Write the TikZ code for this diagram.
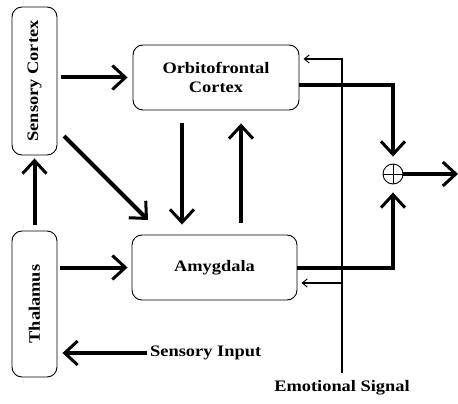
\documentclass[tikz,border=0pt]{standalone}
\usepackage{fontspec}
\setmainfont{Liberation Serif}[FakeStretch=1.15]
\usetikzlibrary{arrows.meta}
\begin{document}
\begin{tikzpicture}[x=1pt,y=-1pt,
  lbl/.style={font=\fontsize{16}{19}\selectfont\bfseries, align=center, inner sep=0pt},
  boxnode/.style={lbl, draw, line width=0.9pt, rounded corners=10pt},
  big/.style={line width=4pt, -{Straight Barb[length=13pt,width=24pt,line width=3pt]}},
  emo/.style={line width=1.1pt, -{Straight Barb[length=5pt,width=8pt,line width=1pt]}}]
\useasboundingbox (0,0) rectangle (458,404);

\node[boxnode, minimum width=45pt, minimum height=148pt] (sc) at (34.5,81) {\rotatebox{90}{Sensory Cortex}};
\node[boxnode, minimum width=45pt, minimum height=146pt] (th) at (34.5,304) {\rotatebox{90}{Thalamus}};
\node[boxnode, minimum width=166pt, minimum height=65pt] (ofc) at (216,77.5) {Orbitofrontal\\Cortex};
\node[boxnode, minimum width=165pt, minimum height=65pt] (amy) at (214.5,267.5) {Amygdala};
\node[draw, circle, line width=0.9pt, minimum size=20pt, inner sep=0pt] (sum) at (393,174) {};
\draw[line width=0.9pt] (sum.north) -- (sum.south) (sum.west) -- (sum.east);

\node[lbl, anchor=west] (si) at (150,353) {Sensory Input};
\node[lbl] (es) at (342,388) {Emotional Signal};

\coordinate (d1) at (64,136);
\coordinate (d2) at (148,220);
\coordinate (out) at (458,174);
\coordinate (etop) at (342,59);
\coordinate (ebot) at (342,373);
\coordinate (emid) at (342,283);

\draw[big, shorten <=4pt, shorten >=5pt] (sc.east |- ofc) -- (ofc.west);
\draw[big, shorten <=3pt, shorten >=4pt] (th.east |- amy) -- (amy.west);
\draw[big, shorten <=6pt, shorten >=3pt] (th.north) -- (sc.south);
\draw[big] (d1) -- (d2);
\draw[big, shorten <=13pt, shorten >=10pt] ([xshift=-34pt]ofc.south) -- ([xshift=-34pt]ofc.south |- amy.north);
\draw[big, shorten <=12pt, shorten >=13pt] ([xshift=25pt]ofc.south |- amy.north) -- ([xshift=25pt]ofc.south);
\draw[big, shorten >=7pt] ([yshift=-7.5pt]ofc.east) -| (sum.north);
\draw[big, shorten >=8pt] (amy.east) -| (sum.south);
\draw[big] (sum.east) -- (out);
\draw[big, shorten <=3pt, shorten >=5pt] (si.west) -- (th.east |- si);

\draw[emo, shorten >=4pt] (ebot) -- (etop) -- (ofc.east |- etop);
\draw[emo, shorten >=4pt] (emid) -- (amy.east |- emid);
\end{tikzpicture}
\end{document}
